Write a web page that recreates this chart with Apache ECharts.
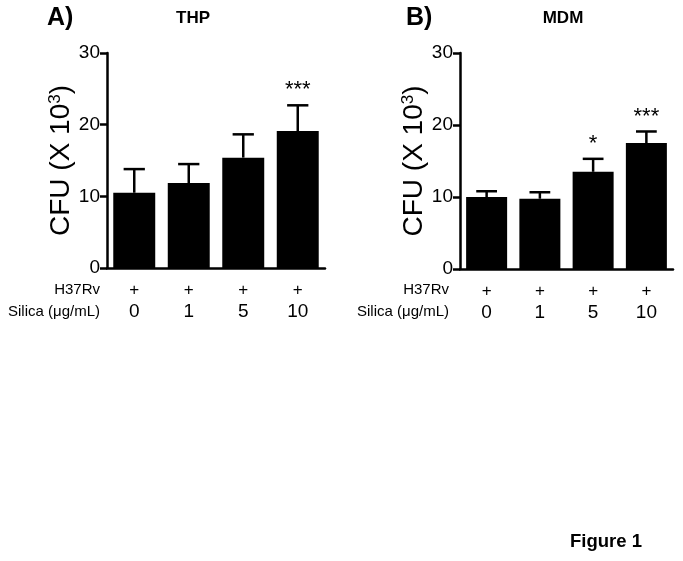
<!DOCTYPE html>
<html><head><meta charset="utf-8">
<script src="https://cdn.jsdelivr.net/npm/echarts@6/dist/echarts.min.js"></script>
<style>html,body{margin:0;padding:0;background:#fff}#c{width:683px;height:561px}</style>
</head><body><div id="c"></div>
<script>
const categories = ['0', '1', '5', '10'];
const infectionRow = ['+', '+', '+', '+'];
const yTicks = [0, 10, 20, 30];
const thpMean = [10.5, 11.85, 15.4, 19.1];
const thpErr = [3.3, 2.65, 3.25, 3.6];
const thpSig = ['', '', '', '***'];
const mdmMean = [10.0, 9.76, 13.5, 17.5];
const mdmErr = [0.8, 0.9, 1.8, 1.6];
const mdmSig = ['', '', '*', '***'];

const FONT = 'Liberation Sans, Arial, sans-serif';
const chart = echarts.init(document.getElementById('c'));

function errSeries(idx, mean, err, sig) {
  return {
    type: 'custom', xAxisIndex: idx, yAxisIndex: idx, z: 1,
    data: mean.map((m, i) => [i, m, m + err[i], sig[i]]),
    renderItem: function (params, api) {
      const x = api.value(0);
      const p0 = api.coord([x, api.value(1)]);
      const p1 = api.coord([x, api.value(2)]);
      const bw = api.size([1, 0])[0] * 0.78;
      const hw = bw * 0.25;
      const children = [
        { type: 'line', shape: { x1: p0[0], y1: p0[1], x2: p1[0], y2: p1[1] }, style: { stroke: '#000', lineWidth: 2.5 } },
        { type: 'line', shape: { x1: p1[0] - hw, y1: p1[1], x2: p1[0] + hw, y2: p1[1] }, style: { stroke: '#000', lineWidth: 2.5 } }
      ];
      const s = sig[params.dataIndex];
      if (s) {
        children.push({ type: 'text', x: p1[0], y: p1[1] - 4,
          style: { text: s, fill: '#000', font: '22px ' + FONT, align: 'center', verticalAlign: 'bottom' } });
      }
      return { type: 'group', children: children };
    }
  };
}

const gridDefs = [
  { left: 107, right: 358, top: 53, bottom: 293 },
  { left: 460, right: 10, top: 53, bottom: 292 }
];

const xAxes = gridDefs.map((g, i) => ({
  type: 'category', gridIndex: i, data: categories,
  axisLine: { lineStyle: { color: '#000', width: 2.5 } },
  axisTick: { alignWithLabel: true, length: 10, lineStyle: { color: '#000', width: 2.5 } },
  axisLabel: {
    margin: 12, interval: 0,
    formatter: function (v, k) { return '{a|' + infectionRow[k] + '}\n{b|' + v + '}'; },
    rich: {
      a: { fontFamily: FONT, fontSize: 17, color: '#000', lineHeight: 20 },
      b: { fontFamily: FONT, fontSize: 19, color: '#000', lineHeight: 24 }
    }
  }
}));

const yAxes = gridDefs.map((g, i) => ({
  type: 'value', gridIndex: i, min: 0, max: 30, interval: 10,
  splitLine: { show: false },
  axisLine: { show: true, lineStyle: { color: '#000', width: 2.5 } },
  axisTick: { show: true, length: 7, lineStyle: { color: '#000', width: 2.5 } },
  axisLabel: { fontFamily: FONT, fontSize: 19, color: '#000', margin: 7,
    formatter: function (v) { return yTicks.indexOf(v) >= 0 ? String(v) : ''; } },
  name: 'CFU (X 10{sup|3})', nameLocation: 'middle', nameGap: 31, nameRotate: 90,
  nameTextStyle: { fontFamily: FONT, fontSize: 28, color: '#000',
    rich: { sup: { fontFamily: FONT, fontSize: 17, color: '#000', verticalAlign: 'top', padding: [0, 0, 12, 0] } } }
}));

function bar(i, data) {
  return { type: 'bar', xAxisIndex: i, yAxisIndex: i, data: data, barWidth: '77%',
    itemStyle: { color: '#000' }, z: 2 };
}

const txt = (x, y, text, size, weight, align) => ({
  type: 'text', x: x, y: y,
  style: { text: text, font: (weight || 'normal') + ' ' + size + 'px ' + FONT, fill: '#000',
    textAlign: align || 'left', textVerticalAlign: 'middle' }
});

chart.setOption({
  animation: false,
  grid: gridDefs,
  xAxis: xAxes,
  yAxis: yAxes,
  series: [
    bar(0, thpMean), bar(1, mdmMean),
    errSeries(0, thpMean, thpErr, thpSig), errSeries(1, mdmMean, mdmErr, mdmSig)
  ],
  graphic: [
    txt(47, 18, 'A)', 25, 'bold'),
    txt(193, 18, 'THP', 17, 'bold', 'center'),
    txt(100, 290, 'H37Rv', 15, 'normal', 'right'),
    txt(100, 312, 'Silica (\u03bcg/mL)', 15, 'normal', 'right'),
    txt(406, 18, 'B)', 25, 'bold'),
    txt(563, 18, 'MDM', 17, 'bold', 'center'),
    txt(449, 290, 'H37Rv', 15, 'normal', 'right'),
    txt(449, 312, 'Silica (\u03bcg/mL)', 15, 'normal', 'right'),
    txt(570, 542, 'Figure 1', 18.5, 'bold')
  ]
});
</script>
</body></html>
